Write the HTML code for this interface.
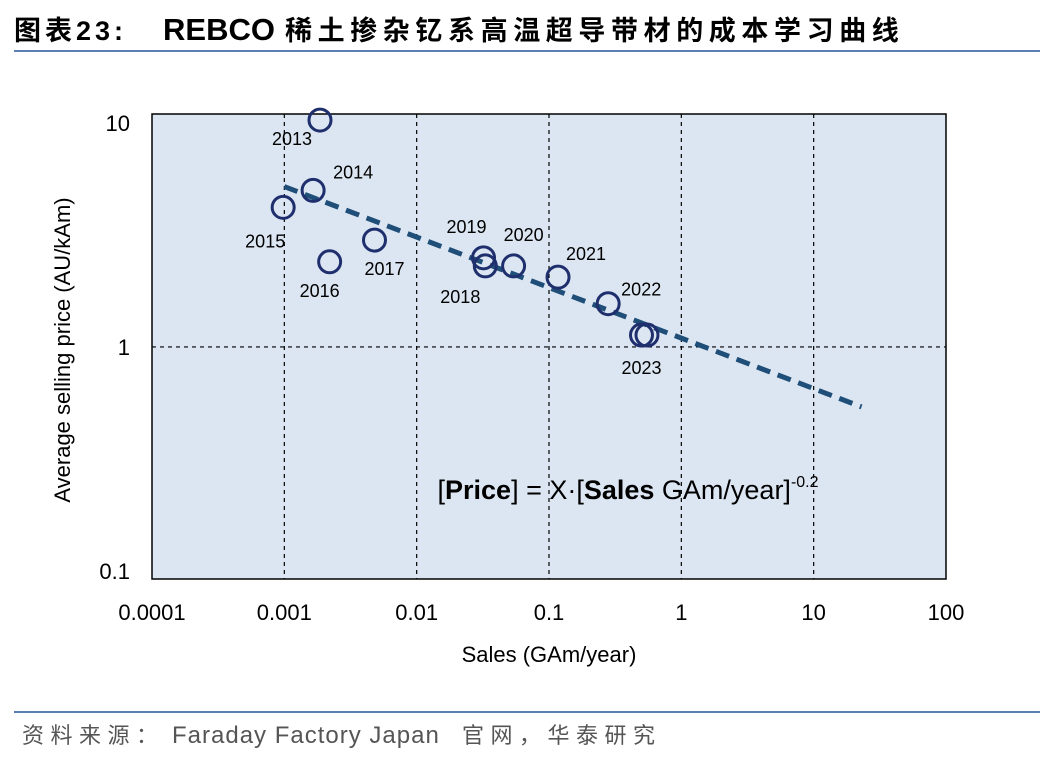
<!DOCTYPE html>
<html><head><meta charset="utf-8"><style>
body{margin:0;background:#fff;width:1048px;height:760px;overflow:hidden;font-family:"Liberation Sans","Noto Sans CJK SC",sans-serif}
</style></head><body>
<svg width="1048" height="760" xmlns="http://www.w3.org/2000/svg">
<text y="40" font-size="27" font-weight="bold" fill="#000" font-family="Liberation Sans,Noto Sans CJK SC,sans-serif"><tspan x="14" letter-spacing="4">图表23:</tspan><tspan x="163" font-size="31">REBCO</tspan><tspan x="285" letter-spacing="5.6">稀土掺杂钇系高温超导带材的成本学习曲线</tspan></text>
<line x1="14" y1="51" x2="1040" y2="51" stroke="#5b7fb2" stroke-width="2"/>
<rect x="152" y="114" width="794" height="465" fill="#dce6f2" stroke="#000" stroke-width="1.5"/>
<g id="grid"></g><g id="axes"></g><g id="marks"></g>
<text x="628" y="499" font-size="27" text-anchor="middle" fill="#000">[<tspan font-weight="bold">Price</tspan>] = X·[<tspan font-weight="bold">Sales</tspan> GAm/year]<tspan font-size="16" dy="-12">-0.2</tspan></text>
<text x="549" y="662" font-size="22" text-anchor="middle" fill="#000">Sales  (GAm/year)</text>
<text transform="translate(70,350) rotate(-90)" font-size="22" text-anchor="middle" fill="#000">Average selling price (AU/kAm)</text>
<line x1="14" y1="712" x2="1040" y2="712" stroke="#5b7fb2" stroke-width="2"/>
<text y="743" font-size="22" fill="#555"><tspan x="22" letter-spacing="6.5">资料来源：</tspan><tspan x="172" font-size="24" letter-spacing="1">Faraday Factory Japan</tspan><tspan x="462" letter-spacing="6.5">官网，华泰研究</tspan></text>
</svg>
<script>
const xTicks=[0.0001,0.001,0.01,0.1,1,10,100];
const xTickLabels=["0.0001","0.001","0.01","0.1","1","10","100"];
const yTicks=[0.1,1,10];
const yTickLabels=["0.1","1","10"];
const years=["2013","2014","2015","2016","2017","2018","2019","2020","2021","2022","2023","2023"];
const sales=[0.00186,0.00165,0.00098,0.0022,0.0048,0.033,0.032,0.054,0.117,0.28,0.50,0.55];
const price=[10.3,5.0,4.2,2.4,3.0,2.3,2.5,2.3,2.05,1.56,1.13,1.13];
const labelDx=[-48,20,-38,-30,-10,-45,-37,-10,8,13,-20,0];
const labelDy=[25,-12,40,35,35,37,-25,-25,-17,-8,39,0];
const trendX=[0.001,23];
const trendY=[5.2,0.54];
const L=152,R=946,T=114,B=579;
const xmin=-4,xmax=2,ymin=-1.036,ymax=1.040;
const X=v=>L+(Math.log10(v)-xmin)/(xmax-xmin)*(R-L);
const Y=v=>B-(Math.log10(v)-ymin)/(ymax-ymin)*(B-T);
const NS="http://www.w3.org/2000/svg";
function mk(p,t,a){const e=document.createElementNS(NS,t);for(const k in a)e.setAttribute(k,a[k]);p.appendChild(e);return e;}
const g=document.getElementById('grid'),ax=document.getElementById('axes'),m=document.getElementById('marks');
xTicks.forEach((v,i)=>{const x=X(v);
 if(i>0&&i<xTicks.length-1){const l=mk(g,'line',{x1:x,x2:x,y1:T,y2:B,stroke:'#000','stroke-dasharray':'4,4','stroke-width':1.2});
 
 }
 const t=mk(ax,'text',{x:x,y:620,'font-size':22,'text-anchor':'middle'});t.textContent=xTickLabels[i];
 
 });
yTicks.forEach((v,i)=>{const y=Y(v);
 if(v===1){const l=mk(g,'line',{x1:L,x2:R,y1:y,y2:y,stroke:'#000','stroke-dasharray':'4,4','stroke-width':1.2});
 
 }
 const t=mk(ax,'text',{x:130,y:y+8,'font-size':22,'text-anchor':'end'});t.textContent=yTickLabels[i];
 
 });
const tl=mk(m,'line',{x1:X(trendX[0]),y1:Y(trendY[0]),x2:X(trendX[1]),y2:Y(trendY[1]),stroke:'#1f4e79','stroke-width':5,'stroke-dasharray':'14,8'});


sales.forEach((s,i)=>{const cx=X(s),cy=Y(price[i]);
 const c=mk(m,'circle',{cx:cx,cy:cy,r:11,fill:'none',stroke:'#1f2f6e','stroke-width':3});
 
 
 if(labelDx[i]===0&&labelDy[i]===0)return;
 const t=mk(m,'text',{x:cx+labelDx[i],y:cy+labelDy[i],'font-size':18});t.textContent=years[i];
 
 });
</script>
</body></html>
